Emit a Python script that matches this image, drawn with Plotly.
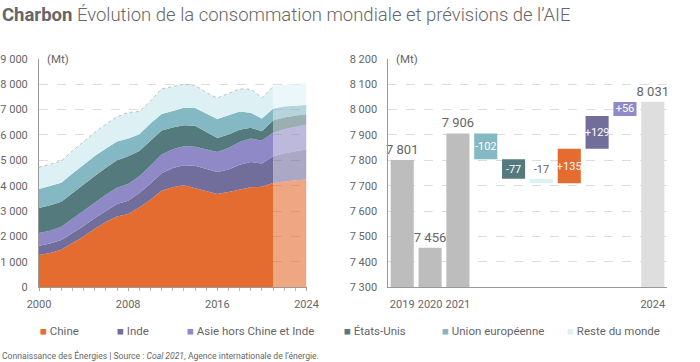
import plotly.graph_objects as go

# ---------------- data ----------------
years = list(range(2000, 2025))
FORECAST_START = 2021

chine = [1276, 1355, 1474, 1738, 2000, 2303, 2568, 2790, 2884, 3146, 3449, 3805, 3935,
         4016, 3911, 3805, 3674, 3753, 3844, 3935, 3963, 4109, 4172, 4212, 4244]
inde = [356, 368, 385, 400, 415, 430, 455, 490, 526, 570, 640, 690, 760,
        790, 870, 870, 865, 885, 980, 1000, 910, 1051, 1100, 1140, 1180]
asie = [502, 505, 525, 553, 580, 600, 625, 640, 655, 660, 695, 730, 740,
        745, 750, 760, 790, 850, 895, 920, 905, 925, 950, 968, 981]
etats_unis = [987, 1000, 988, 1027, 1055, 1051, 1055, 1079, 1091, 988, 988, 948, 854,
              830, 830, 700, 553, 525, 486, 422, 368, 485, 460, 430, 408]
ue = [751, 751, 740, 760, 790, 790, 760, 740, 700, 660, 680, 650, 650,
      690, 700, 720, 740, 760, 720, 593, 502, 463, 440, 400, 361]
reste = [854, 857, 854, 893, 897, 925, 961, 972, 1027, 897, 881, 987, 964,
         928, 888, 815, 830, 852, 882, 931, 808, 873, 865, 860, 856]

series_names = ["Chine", "Inde", "Asie hors Chine et Inde", "États-Unis", "Union européenne", "Reste du monde"]
series_values = [chine, inde, asie, etats_unis, ue, reste]
series_colors = ["#E56C30", "#726E9C", "#8F8AC7", "#557A7D", "#84B8C3", "#DDF1F5"]
forecast_colors = ["rgba(229,108,48,0.6)", "rgba(114,110,156,0.6)", "rgba(143,138,199,0.6)",
                   "rgba(85,122,125,0.6)", "rgba(132,184,195,0.6)", "rgba(221,241,245,0.6)"]

# waterfall
wf_start_years = ["2019", "2020", "2021"]
wf_start_values = [7801, 7456, 7906]
wf_delta_names = ["Union européenne", "États-Unis", "Reste du monde", "Chine", "Inde", "Asie hors Chine et Inde"]
wf_deltas = [-102, -77, -17, 135, 129, 56]
wf_delta_colors = ["#84B8C3", "#557A7D", "#DDF1F5", "#E56C30", "#726E9C", "#8F8AC7"]
wf_end_year = "2024"
wf_end_value = 8031

left_yticks = list(range(0, 9001, 1000))
right_yticks = list(range(7300, 8201, 100))

GREY = "#666666"
FONT = "Roboto"

def fmt(v):
    return f"{v:,}".replace(",", " ")

fig = go.Figure()

# ---------------- left: stacked areas ----------------
hist_idx = [i for i, y in enumerate(years) if y <= FORECAST_START]
fc_idx = [i for i, y in enumerate(years) if y >= FORECAST_START]
for k, (name, vals) in enumerate(zip(series_names, series_values)):
    last = k == len(series_names) - 1
    fig.add_trace(go.Scatter(
        x=[years[i] for i in hist_idx], y=[vals[i] for i in hist_idx],
        stackgroup="hist", mode="lines", name=name, showlegend=False,
        fillcolor=series_colors[k],
        line=dict(width=0.8 if last else 0, color="#b0b0b0" if last else series_colors[k],
                  dash="dot" if last else "solid"),
        xaxis="x", yaxis="y", hoverinfo="skip"))
for k, (name, vals) in enumerate(zip(series_names, series_values)):
    fig.add_trace(go.Scatter(
        x=[years[i] for i in fc_idx], y=[vals[i] for i in fc_idx],
        stackgroup="fc", mode="lines", name=name, showlegend=False,
        fillcolor=forecast_colors[k], line=dict(width=0, color=forecast_colors[k]),
        xaxis="x", yaxis="y", hoverinfo="skip"))

# ---------------- right: waterfall ----------------
cats = wf_start_years + wf_delta_names + [wf_end_year]
ticktext = wf_start_years + [""] * len(wf_delta_names) + [wf_end_year]

fig.add_trace(go.Bar(
    x=wf_start_years + [wf_end_year], y=wf_start_values + [wf_end_value],
    marker=dict(color=["#BDBDBD"] * 3 + ["#DEDEDE"], line=dict(width=0)),
    text=[fmt(v) for v in wf_start_values + [wf_end_value]], textposition="outside",
    textangle=0, textfont=dict(size=13, color=GREY, family=FONT), cliponaxis=False,
    constraintext="none", xaxis="x2", yaxis="y2", showlegend=False, hoverinfo="skip"))

level = wf_start_values[-1]
bases, heights = [], []
for d in wf_deltas:
    new = level + d
    bases.append(min(level, new))
    heights.append(abs(d))
    level = new
labels = [("+" if d > 0 else "") + str(d) for d in wf_deltas]
positions = ["inside" if abs(d) > 40 else "outside" for d in wf_deltas]
tcolors = ["white" if p == "inside" else GREY for p in positions]
fig.add_trace(go.Bar(
    x=wf_delta_names, y=heights, base=bases,
    marker=dict(color=wf_delta_colors, line=dict(width=0)),
    text=labels, textposition=positions, insidetextanchor="middle", textangle=0,
    textfont=dict(size=11, color=tcolors, family=FONT), constraintext="none",
    cliponaxis=False, xaxis="x2", yaxis="y2", showlegend=False, hoverinfo="skip"))

# ---------------- layout ----------------
H = 362.0
W = 700.0
ybot = 1 - 287.3 / H
ytop = 1 - 58.7 / H

axis_common = dict(showline=True, linecolor="#999999", linewidth=1, automargin=False,
                   tickfont=dict(size=11, color=GREY, family=FONT))

fig.update_layout(
    template="none",
    width=700, height=362, margin=dict(l=0, r=0, t=0, b=0, autoexpand=False),
    paper_bgcolor="white", plot_bgcolor="white",
    separators=", ", barmode="overlay", bargap=0.17,
    font=dict(family=FONT, color=GREY),
    xaxis=dict(domain=[39 / W, 306.5 / W], range=[2000, 2024], tick0=2000, dtick=8,
               ticks="outside", ticklen=3, tickcolor="#aaaaaa", tickangle=0,
               minor=dict(dtick=1, ticks="outside", ticklen=3, tickcolor="#bbbbbb"),
               showgrid=False, zeroline=False, anchor="y", ticklabelstandoff=3,
               **axis_common),
    yaxis=dict(domain=[ybot, ytop], range=[0, 9000], tickvals=left_yticks,
               separatethousands=True, showgrid=True, gridcolor="#dddddd",
               griddash="dash", gridwidth=1, zeroline=False, ticks="",
               ticklabelstandoff=8, anchor="x", **axis_common),
    xaxis2=dict(domain=[388.3 / W, 666.7 / W], type="category", categoryorder="array",
                categoryarray=cats, tickvals=cats, ticktext=ticktext, tickangle=0,
                range=[-0.5, len(cats) - 0.5], ticks="", showgrid=False,
                zeroline=False, anchor="y2", ticklabelstandoff=6, **axis_common),
    yaxis2=dict(domain=[ybot, ytop], range=[7300, 8200], tickvals=right_yticks,
                separatethousands=True, showgrid=True, gridcolor="#dddddd",
                griddash="dash", gridwidth=1, zeroline=False, ticks="",
                ticklabelstandoff=8, anchor="x2", **axis_common),
)

annotations = [
    dict(text="<b>Charbon</b> Évolution de la consommation mondiale et prévisions de l’AIE",
         x=0, y=1 - 15 / H, xref="paper", yref="paper", xanchor="left", yanchor="middle",
         showarrow=False, font=dict(size=18.5, color=GREY, family=FONT, weight=300)),
    dict(text="(Mt)", x=45 / W, y=ytop, xref="paper", yref="paper", xanchor="left",
         yanchor="middle", showarrow=False, bgcolor="white",
         font=dict(size=11.5, color=GREY, family=FONT)),
    dict(text="(Mt)", x=394 / W, y=ytop, xref="paper", yref="paper", xanchor="left",
         yanchor="middle", showarrow=False, bgcolor="white",
         font=dict(size=11.5, color=GREY, family=FONT)),
    dict(text="Connaissance des Énergies | Source : <i>Coal 2021</i>, Agence internationale de l’énergie.",
         x=0, y=1 - 355 / H, xref="paper", yref="paper", xanchor="left", yanchor="middle",
         showarrow=False, font=dict(size=8.6, color=GREY, family=FONT)),
]
legend_x = [38, 115, 185, 342, 440, 565]
for name, col, lx in zip(series_names, series_colors, legend_x):
    annotations.append(dict(
        text=f"<span style='color:{col}'>■</span> {name}", x=lx / W, y=1 - 331 / H,
        xref="paper", yref="paper", xanchor="left", yanchor="middle", showarrow=False,
        font=dict(size=11.5, color=GREY, family=FONT)))
fig.update_layout(annotations=annotations)

fig.write_html("out.html", config={"displayModeBar": False},
               post_script="document.body.style.margin='0';document.body.style.overflow='hidden';")
